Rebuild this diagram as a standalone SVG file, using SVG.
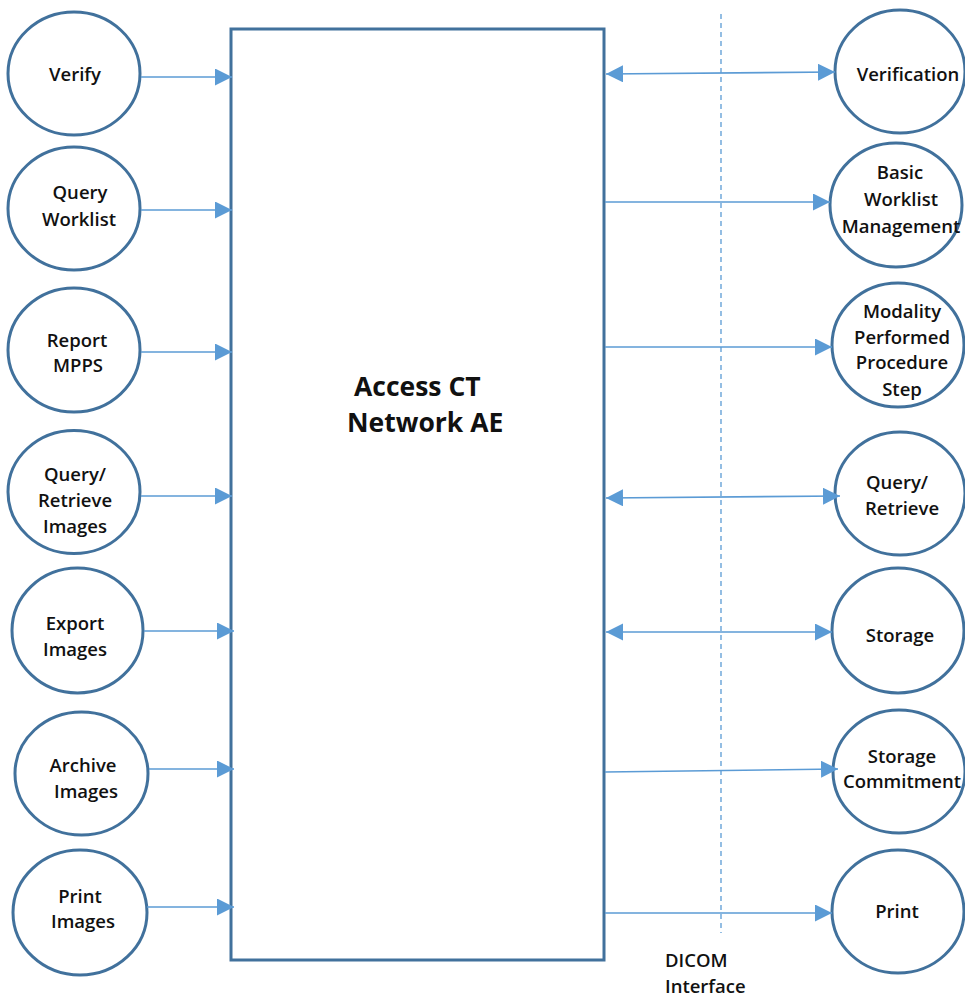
<svg xmlns="http://www.w3.org/2000/svg" width="965" height="997" viewBox="0 0 965 997">
<style>
.node{fill:#fff;stroke:#41719C;stroke-width:3}
.lbl{font-family:"Open Sans","Liberation Sans",sans-serif;font-weight:600;font-size:18.5px;fill:#111;text-anchor:middle}
.con{stroke:#5B9BD5;stroke-width:1.6;fill:none}
.title{font-family:"Open Sans","Liberation Sans",sans-serif;font-weight:700;font-size:26.5px;fill:#111}
</style>
<defs>
<marker id="ah" markerUnits="userSpaceOnUse" markerWidth="18" markerHeight="18" refX="17" refY="8.5" orient="auto-start-reverse">
<path d="M0,0 L17,8.5 L0,17 z" fill="#5B9BD5"/>
</marker>
</defs>
<rect width="965" height="997" fill="#fff"/>
<g id="main">
<rect class="node" x="231" y="29" width="373" height="931" fill="none"/>
<text class="title" x="354" y="396">Access CT</text>
<text class="title" x="347" y="432">Network AE</text>
</g>
<g id="dicom-interface">
<line x1="721" y1="14" x2="721" y2="933" stroke="#5B9BD5" stroke-width="1.3" stroke-dasharray="5,4"/>
<text class="lbl" style="text-anchor:start" x="665" y="967">DICOM</text>
<text class="lbl" style="text-anchor:start" x="665" y="993">Interface</text>
</g>
<g id="verify"><ellipse class="node" cx="74" cy="73.5" rx="66" ry="61.5"/><text class="lbl" x="75" y="81">Verify</text></g>
<g id="query-worklist"><ellipse class="node" cx="74" cy="208.5" rx="66" ry="61.5"/><text class="lbl" x="80" y="199">Query</text><text class="lbl" x="79" y="226">Worklist</text></g>
<g id="report-mpps"><ellipse class="node" cx="74" cy="350" rx="66" ry="62"/><text class="lbl" x="77" y="347">Report</text><text class="lbl" x="78" y="372">MPPS</text></g>
<g id="qr-images"><ellipse class="node" cx="74" cy="492" rx="66" ry="61.5"/><text class="lbl" x="75" y="481">Query/</text><text class="lbl" x="75" y="507">Retrieve</text><text class="lbl" x="75" y="533">Images</text></g>
<g id="export-images"><ellipse class="node" cx="77.5" cy="630.5" rx="65.5" ry="62.5"/><text class="lbl" x="75" y="630">Export</text><text class="lbl" x="75" y="656">Images</text></g>
<g id="archive-images"><ellipse class="node" cx="81.5" cy="773.5" rx="66.5" ry="61.5"/><text class="lbl" x="83" y="772">Archive</text><text class="lbl" x="86" y="798">Images</text></g>
<g id="print-images"><ellipse class="node" cx="80" cy="912.5" rx="67" ry="62.5"/><text class="lbl" x="80" y="903">Print</text><text class="lbl" x="83" y="928">Images</text></g>
<g id="verification"><ellipse class="node" cx="900" cy="71.5" rx="65" ry="61.5"/><text class="lbl" x="908" y="81">Verification</text></g>
<g id="basic-worklist"><ellipse class="node" cx="896" cy="205" rx="66" ry="62"/><text class="lbl" x="900" y="179">Basic</text><text class="lbl" x="901" y="206">Worklist</text><text class="lbl" x="901" y="233">Management</text></g>
<g id="mpps"><ellipse class="node" cx="898" cy="345" rx="66" ry="62"/><text class="lbl" x="902" y="318">Modality</text><text class="lbl" x="902" y="344">Performed</text><text class="lbl" x="902" y="369">Procedure</text><text class="lbl" x="902" y="396">Step</text></g>
<g id="query-retrieve"><ellipse class="node" cx="900" cy="493.5" rx="65" ry="61.5"/><text class="lbl" x="897" y="489">Query/</text><text class="lbl" x="902" y="515">Retrieve</text></g>
<g id="storage"><ellipse class="node" cx="898" cy="630.5" rx="66" ry="62.5"/><text class="lbl" x="900" y="642">Storage</text></g>
<g id="storage-commitment"><ellipse class="node" cx="899" cy="771.5" rx="66" ry="61.5"/><text class="lbl" x="902" y="763">Storage</text><text class="lbl" x="902" y="788">Commitment</text></g>
<g id="print"><ellipse class="node" cx="898" cy="911.5" rx="66" ry="61.5"/><text class="lbl" x="897" y="918">Print</text></g>
<g id="connectors">
<line class="con" x1="141" y1="77" x2="232" y2="77" marker-end="url(#ah)"/>
<line class="con" x1="141" y1="210" x2="232" y2="210" marker-end="url(#ah)"/>
<line class="con" x1="141" y1="352" x2="232" y2="352" marker-end="url(#ah)"/>
<line class="con" x1="141" y1="496" x2="232" y2="496" marker-end="url(#ah)"/>
<line class="con" x1="144" y1="631" x2="234" y2="631" marker-end="url(#ah)"/>
<line class="con" x1="149" y1="769" x2="234" y2="769" marker-end="url(#ah)"/>
<line class="con" x1="147" y1="907" x2="234" y2="907" marker-end="url(#ah)"/>
<line class="con" x1="606" y1="74" x2="835" y2="72" marker-start="url(#ah)" marker-end="url(#ah)"/>
<line class="con" x1="605" y1="202" x2="830" y2="202" marker-end="url(#ah)"/>
<line class="con" x1="605" y1="347" x2="832" y2="347" marker-end="url(#ah)"/>
<line class="con" x1="606" y1="498" x2="840" y2="496" marker-start="url(#ah)" marker-end="url(#ah)"/>
<line class="con" x1="606" y1="632" x2="832" y2="632" marker-start="url(#ah)" marker-end="url(#ah)"/>
<line class="con" x1="605" y1="772" x2="838" y2="769" marker-end="url(#ah)"/>
<line class="con" x1="605" y1="913" x2="832" y2="913" marker-end="url(#ah)"/>
</g>
</svg>
